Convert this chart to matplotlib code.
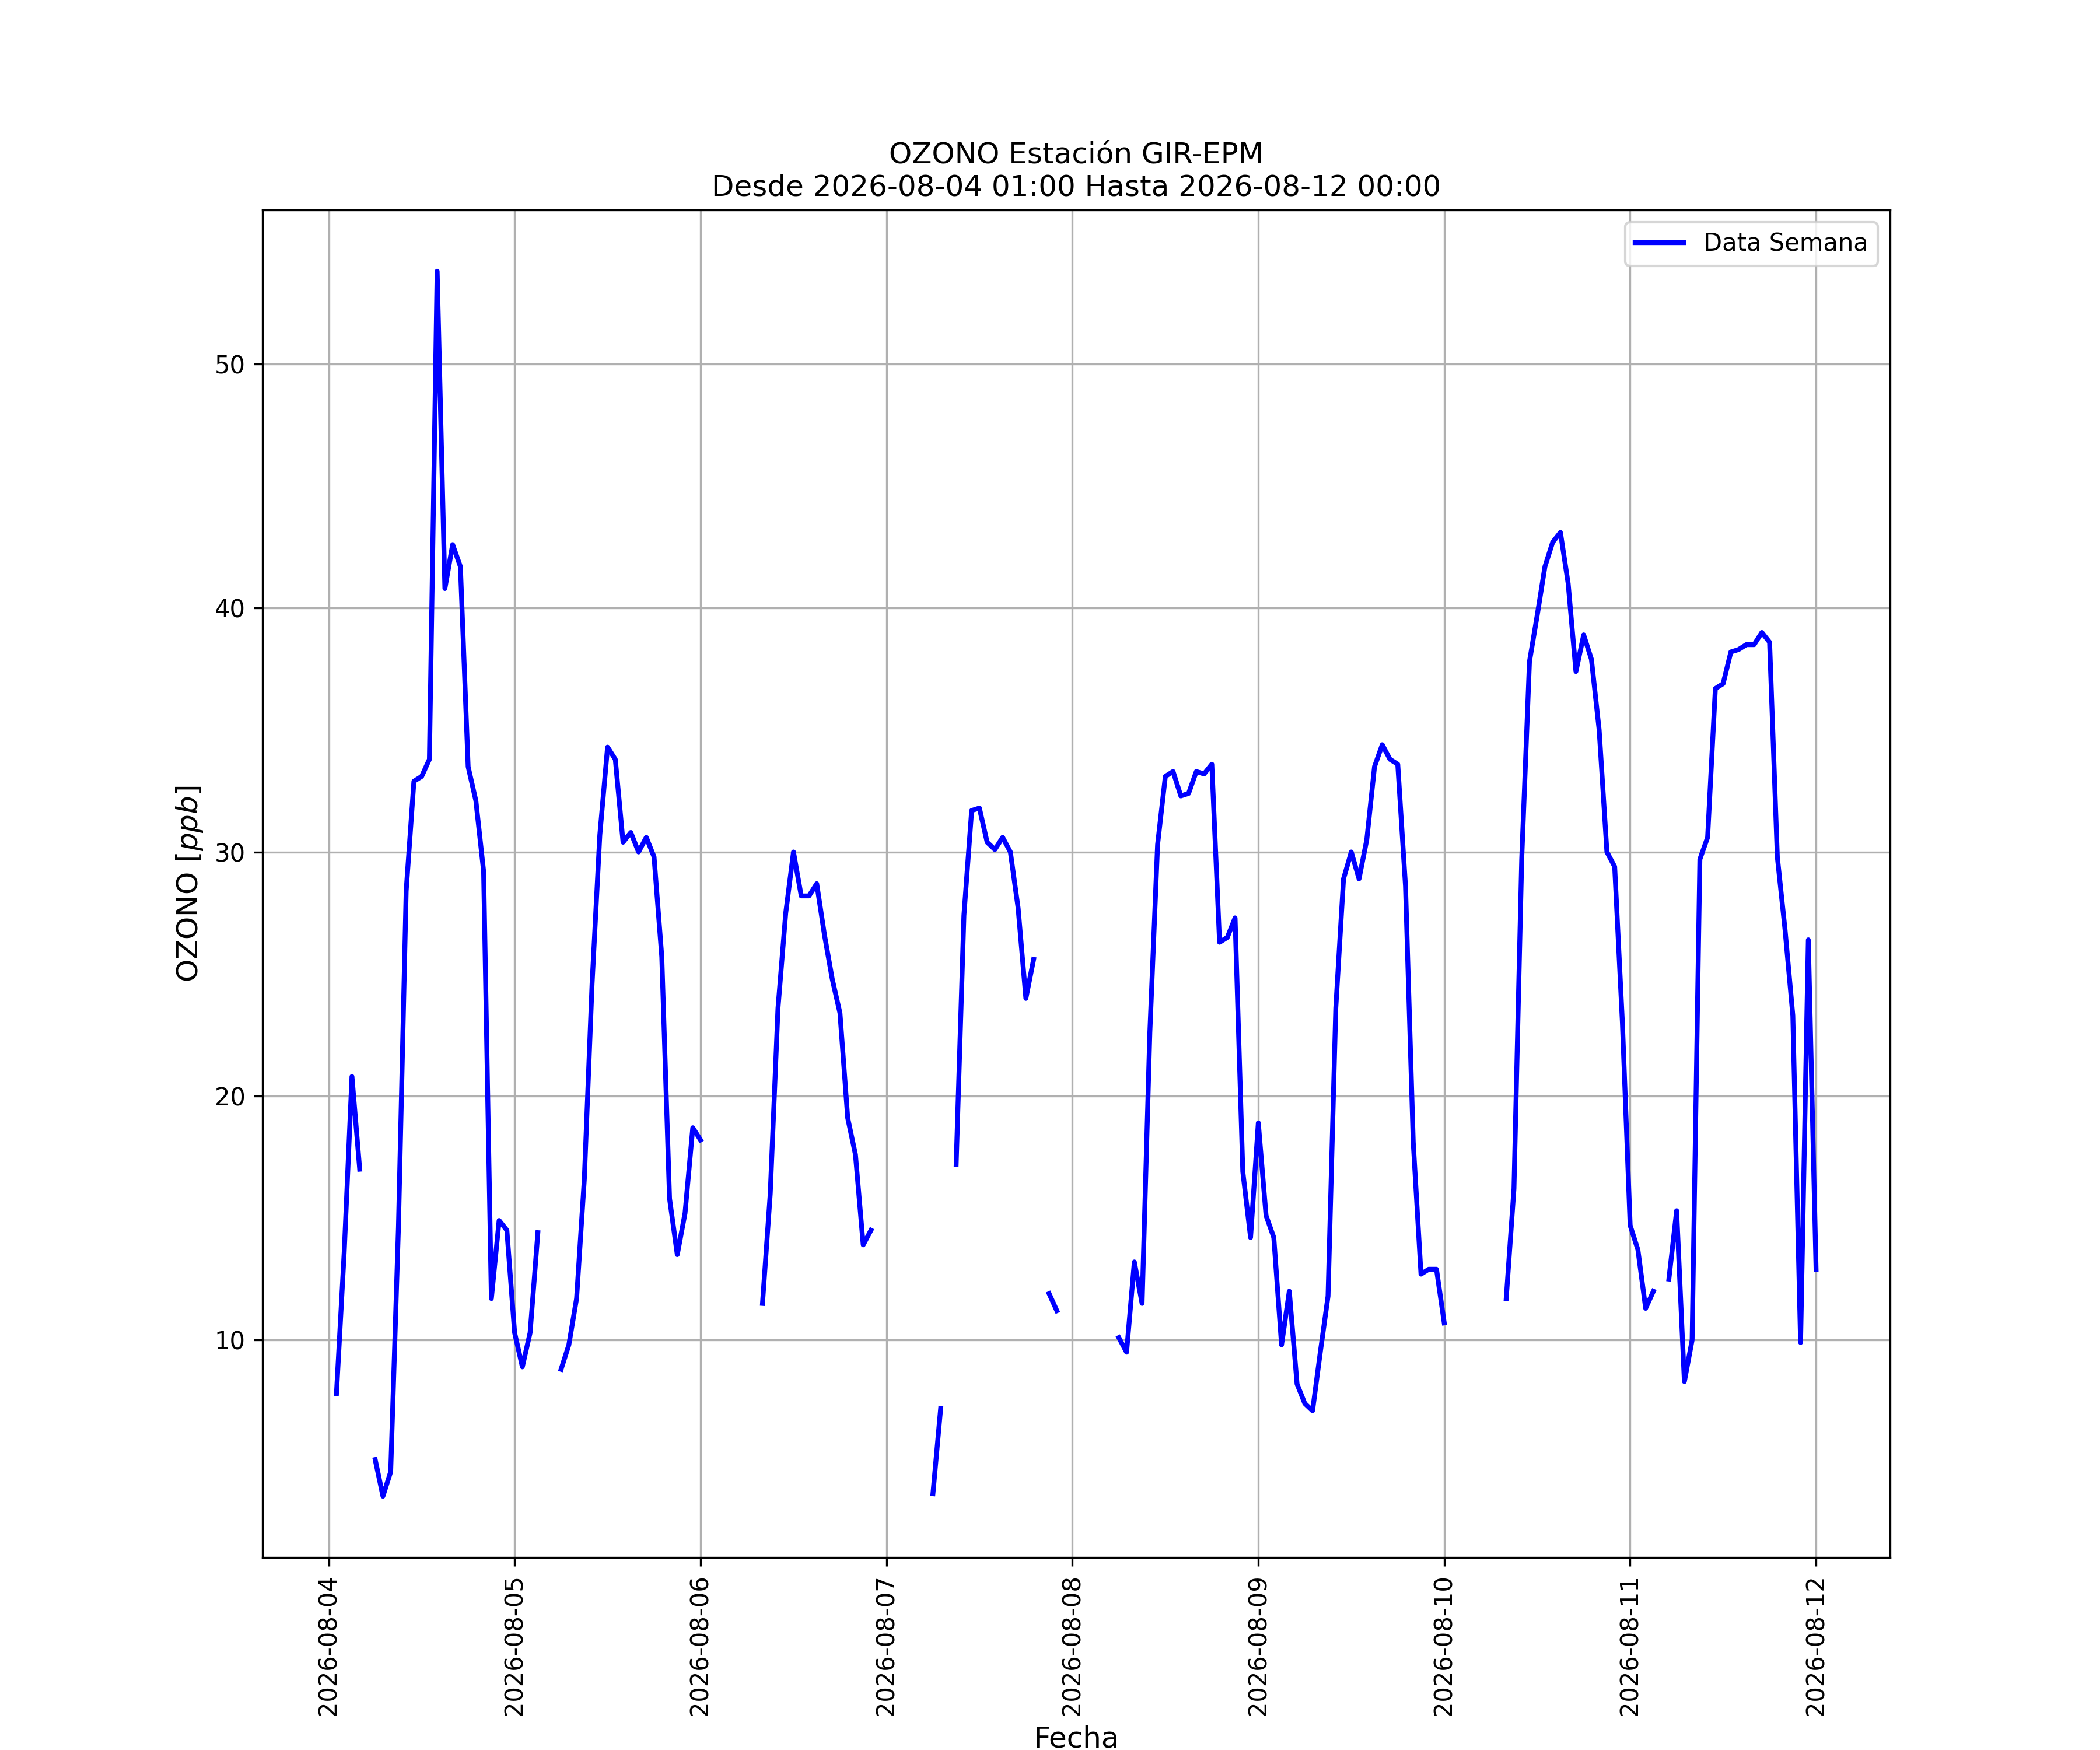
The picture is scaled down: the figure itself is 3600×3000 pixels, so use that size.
import numpy as np
import pandas as pd
import matplotlib
matplotlib.use("Agg")
import matplotlib.pyplot as plt
import matplotlib.dates as mdates

nan = np.nan

# ozono horario [ppb], cada lista = un dia (horas 00..23); el 04 empieza a la 01:00
dia_04 = [7.8, 13.6, 20.8, 17.0, nan, 5.1, 3.6, 4.6, 14.6, 28.4, 32.9, 33.1,
          33.8, 53.8, 40.8, 42.6, 41.7, 33.5, 32.1, 29.2, 11.7, 14.9, 14.5]
dia_05 = [10.3, 8.9, 10.3, 14.4, nan, nan, 8.8, 9.8, 11.7, 16.6, 24.6, 30.7,
          34.3, 33.8, 30.4, 30.8, 30.0, 30.6, 29.8, 25.7, 15.8, 13.5, 15.2, 18.7]
dia_06 = [18.2, nan, nan, nan, nan, nan, nan, nan, 11.5, 16.0, 23.6, 27.5,
          30.0, 28.2, 28.2, 28.7, 26.6, 24.8, 23.4, 19.1, 17.6, 13.9, 14.5, nan]
dia_07 = [nan, nan, nan, nan, nan, nan, 3.7, 7.2, nan, 17.2, 27.4, 31.7,
          31.8, 30.4, 30.1, 30.6, 30.0, 27.7, 24.0, 25.6, nan, 11.9, 11.2, nan]
dia_08 = [nan, nan, nan, nan, nan, nan, 10.1, 9.5, 13.2, 11.5, 22.6, 30.3,
          33.1, 33.3, 32.3, 32.4, 33.3, 33.2, 33.6, 26.3, 26.5, 27.3, 16.9, 14.2]
dia_09 = [18.9, 15.1, 14.2, 9.8, 12.0, 8.2, 7.4, 7.1, 9.5, 11.8, 23.6, 28.9,
          30.0, 28.9, 30.5, 33.5, 34.4, 33.8, 33.6, 28.6, 18.1, 12.7, 12.9, 12.9]
dia_10 = [10.7, nan, nan, nan, nan, nan, nan, nan, 11.7, 16.2, 29.7, 37.8,
          39.7, 41.7, 42.7, 43.1, 41.0, 37.4, 38.9, 37.9, 35.0, 30.0, 29.4, 23.0]
dia_11 = [14.7, 13.7, 11.3, 12.0, nan, 12.5, 15.3, 8.3, 10.0, 29.7, 30.6, 36.7,
          36.9, 38.2, 38.3, 38.5, 38.5, 39.0, 38.6, 29.8, 26.8, 23.3, 9.9, 26.4]
dia_12 = [12.9]

ozono = dia_04 + dia_05 + dia_06 + dia_07 + dia_08 + dia_09 + dia_10 + dia_11 + dia_12
inicio = "2026-08-04 01:00"
fin = "2026-08-12 00:00"
fechas = pd.date_range(inicio, fin, freq="h")
serie = pd.Series(ozono, index=fechas)

fig = plt.figure(figsize=(12, 10))
ax = fig.add_subplot(111)
ax.plot(serie.index, serie.values, color="blue", lw=2, label="Data Semana")
ax.set_title("OZONO Estación GIR-EPM\nDesde %s Hasta %s" % (inicio, fin))
ax.set_xlabel("Fecha", fontsize=12)
ax.set_ylabel("OZONO [$ppb$]", fontsize=12)
ax.xaxis.set_major_locator(mdates.DayLocator())
ax.xaxis.set_major_formatter(mdates.DateFormatter("%Y-%m-%d"))
plt.setp(ax.get_xticklabels(), rotation=90)
ax.grid(True)
ax.legend(loc="upper right")
fig.savefig("out.png", dpi=300)
